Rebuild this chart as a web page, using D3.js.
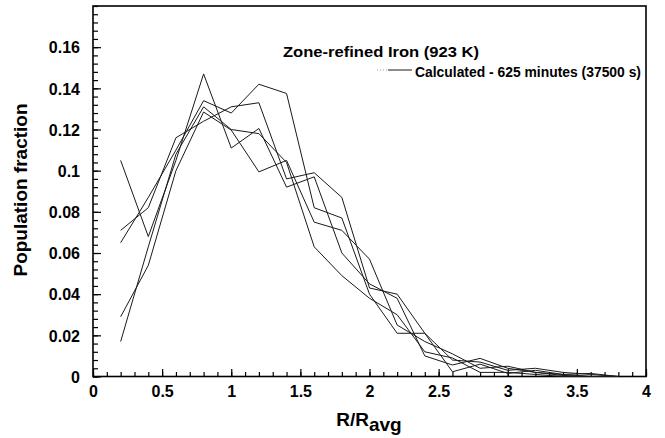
<!DOCTYPE html>
<html>
<head>
<meta charset="utf-8">
<script src="https://cdn.jsdelivr.net/npm/d3@7"></script>
<style>
    body { margin: 0; background: #fff; }
    svg text { font-family: "Liberation Sans", Arial, sans-serif; font-weight: bold; fill: #000; }
</style>
</head>
<body>
<div id="chart"></div>
<script>
(function() {
    // bin centres, R/Ravg
    var radii = [0.2, 0.4, 0.6, 0.8, 1.0, 1.2, 1.4, 1.6, 1.8, 2.0, 2.2, 2.4, 2.6, 2.8, 3.0, 3.2, 3.4, 3.6, 3.8];

    // population fraction of each calculated run
    var run1 = [0.105, 0.068, 0.105, 0.147, 0.111, 0.1205, 0.092, 0.097, 0.060, 0.045, 0.038, 0.010, 0.0056, 0.0088, 0.004, 0.002, 0.001, 0.0015, 0];
    var run2 = [0.071, 0.082, 0.116, 0.124, 0.131, 0.133, 0.096, 0.099, 0.087, 0.043, 0.040, 0.021, 0.008, 0.007, 0.003, 0.004, 0.002, 0.001, 0];
    var run3 = [0.065, 0.087, 0.110, 0.134, 0.128, 0.142, 0.1375, 0.082, 0.077, 0.040, 0.021, 0.021, 0.0023, 0.006, 0.0015, 0.003, 0.001, 0, 0];
    var run4 = [0.029, 0.054, 0.100, 0.1285, 0.1197, 0.0994, 0.105, 0.075, 0.071, 0.057, 0.025, 0.017, 0.011, 0.004, 0.005, 0.002, 0.0005, 0, 0];
    var run5 = [0.017, 0.063, 0.108, 0.131, 0.120, 0.118, 0.104, 0.063, 0.049, 0.038, 0.030, 0.012, 0.009, 0.002, 0.002, 0.001, 0, 0, 0];

    var xTicks = [0, 0.5, 1, 1.5, 2, 2.5, 3, 3.5, 4];
    var yTicks = [0, 0.02, 0.04, 0.06, 0.08, 0.1, 0.12, 0.14, 0.16];

    var width = 665, height = 438;
    var plot = {left: 93, right: 646, top: 6, bottom: 376.5};

    var xScale = d3.scaleLinear().domain([0, 4]).range([plot.left, plot.right]);
    var yScale = d3.scaleLinear().domain([0, 0.18]).range([plot.bottom, plot.top]);

    var svg = d3.select("#chart").append("svg")
        .attr("width", width)
        .attr("height", height);

    // minor ticks
    svg.append("g")
        .attr("transform", "translate(" + plot.left + ",0)")
        .call(d3.axisLeft(yScale).tickValues(d3.range(0, 0.1801, 0.004)).tickSize(-5).tickFormat(""))
        .call(function(g) { g.select(".domain").remove(); });

    svg.append("g")
        .attr("transform", "translate(0," + plot.bottom + ")")
        .call(d3.axisBottom(xScale).tickValues(d3.range(0, 4.001, 0.1)).tickSize(-4.5).tickFormat(""))
        .call(function(g) { g.select(".domain").remove(); });

    // major ticks + labels
    var yAxis = svg.append("g")
        .attr("transform", "translate(" + plot.left + ",0)")
        .call(d3.axisLeft(yScale).tickValues(yTicks).tickSize(-8).tickPadding(13)
            .tickFormat(function(d) { return String(+d.toFixed(2)); }));
    yAxis.select(".domain").remove();
    yAxis.selectAll("text").style("font-size", "16px").attr("dy", "0.36em");

    var xAxis = svg.append("g")
        .attr("transform", "translate(0," + plot.bottom + ")")
        .call(d3.axisBottom(xScale).tickValues(xTicks).tickSize(-7.5).tickPadding(9)
            .tickFormat(function(d) { return String(d); }));
    xAxis.select(".domain").remove();
    xAxis.selectAll("text").style("font-size", "16px");

    svg.selectAll(".tick line").attr("stroke", "#000").attr("stroke-width", 1.2);

    // frame
    svg.append("rect")
        .attr("x", plot.left)
        .attr("y", plot.top)
        .attr("width", plot.right - plot.left)
        .attr("height", plot.bottom - plot.top)
        .attr("fill", "none")
        .attr("stroke", "#000")
        .attr("stroke-width", 1.6);

    // lines
    var line = d3.line()
        .x(function(d) { return xScale(d[0]); })
        .y(function(d) { return yScale(d[1]); });

    var runs = [run1, run2, run3, run4, run5];
    svg.selectAll(".run")
        .data(runs)
        .enter()
        .append("path")
        .attr("class", "run")
        .attr("fill", "none")
        .attr("stroke", "#1a1a1a")
        .attr("stroke-width", 1)
        .attr("d", function(vals) { return line(radii.map(function(r, i) { return [r, vals[i]]; })); });

    // legend
    svg.append("text")
        .attr("x", 283)
        .attr("y", 57)
        .attr("textLength", 196)
        .attr("lengthAdjust", "spacingAndGlyphs")
        .style("font-size", "15px")
        .text("Zone-refined Iron (923 K)");

    svg.append("line")
        .attr("x1", 377).attr("x2", 388)
        .attr("y1", 70).attr("y2", 70)
        .attr("stroke", "#999")
        .attr("stroke-width", 1)
        .attr("stroke-dasharray", "1,2");

    svg.append("line")
        .attr("x1", 388).attr("x2", 412)
        .attr("y1", 70).attr("y2", 70)
        .attr("stroke", "#1a1a1a")
        .attr("stroke-width", 1);

    svg.append("text")
        .attr("x", 415)
        .attr("y", 77)
        .attr("textLength", 226)
        .attr("lengthAdjust", "spacingAndGlyphs")
        .style("font-size", "15px")
        .text("Calculated - 625 minutes (37500 s)");

    // axis titles
    svg.append("text")
        .attr("transform", "translate(27,190) rotate(-90)")
        .attr("text-anchor", "middle")
        .style("font-size", "19px")
        .text("Population fraction");

    var xTitle = svg.append("text")
        .attr("x", 369)
        .attr("y", 426)
        .attr("text-anchor", "middle")
        .style("font-size", "19px");
    xTitle.append("tspan").text("R/R");
    xTitle.append("tspan").attr("dy", 5).text("avg");
})();
</script>
</body>
</html>
